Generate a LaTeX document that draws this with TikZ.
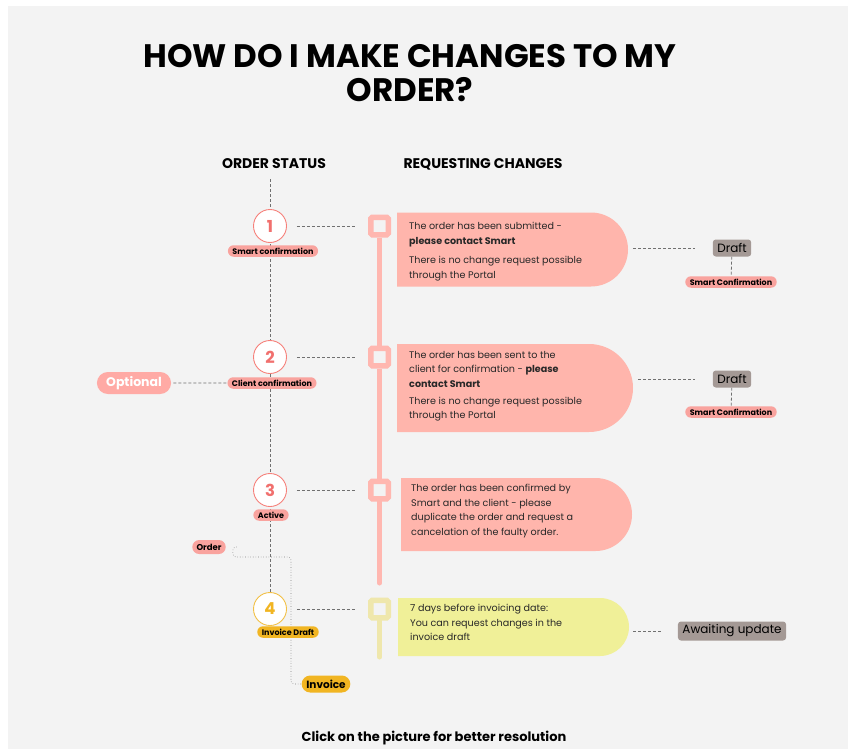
\documentclass[tikz,border=0pt]{standalone}
\usepackage{fontspec}
\setmainfont{Poppins}
\usetikzlibrary{positioning,shapes.misc}
\definecolor{bggray}{RGB}{243,243,243}
\definecolor{boxpink}{RGB}{255,181,172}
\definecolor{barpink}{RGB}{255,183,176}
\definecolor{ringpink}{RGB}{246,128,122}
\definecolor{numpink}{RGB}{241,112,110}
\definecolor{pillpink}{RGB}{249,163,158}
\definecolor{optpink}{RGB}{255,170,165}
\definecolor{boxyellow}{RGB}{240,240,152}
\definecolor{baryellow}{RGB}{239,231,172}
\definecolor{ringyellow}{RGB}{242,192,70}
\definecolor{gold}{RGB}{241,181,34}
\definecolor{taggray}{RGB}{164,153,149}
\definecolor{linegray}{RGB}{112,112,112}
\definecolor{textdark}{RGB}{40,40,40}
\pgfdeclarelayer{canvas}
\pgfdeclarelayer{lines}
\pgfsetlayers{canvas,lines,main}

\begin{document}
\begin{tikzpicture}[x=1pt,y=-1pt,
  font=\fontsize{9.6}{14.6}\selectfont,
  dashline/.style={draw=linegray, dash pattern=on 3pt off 2pt, line width=0.8pt},
  link/.style={draw=gray, dotted, line width=0.6pt, rounded corners=3pt},
  stepcircle/.style={circle, draw=ringpink, line width=0.9pt, fill=white,
                     minimum size=33pt, inner sep=0pt, text=numpink,
                     font=\fontsize{16.5}{16.5}\selectfont\bfseries},
  statuspill/.style={rounded rectangle, fill=pillpink, inner xsep=3.5pt, inner ysep=1pt,
                     minimum height=11.5pt, font=\fontsize{8}{8}\selectfont\bfseries},
  marker/.style={rectangle, rounded corners=1.5pt, draw=barpink, line width=5.5pt,
                 fill=bggray, minimum size=17.5pt, inner sep=0pt},
  bar/.style={draw=barpink, line width=5pt},
  dbox/.style={rounded rectangle, rounded rectangle west arc=none, fill=boxpink, inner sep=0pt},
  boxtext/.style={anchor=north west, align=left, inner sep=0pt, text=textdark},
  greytag/.style={rectangle, rounded corners=3pt, fill=taggray, inner xsep=4.5pt,
                  inner ysep=2pt, minimum height=17pt, font=\fontsize{12}{12}\selectfont},
  head/.style={font=\fontsize{14}{14}\selectfont\bfseries}]
  \def\colS{270}\def\colM{379.5}
  \def\rA{226}\def\rB{357}\def\rC{490}\def\rD{609}
  \useasboundingbox (0,0) rectangle (848,749);
  \begin{pgfonlayer}{canvas}
    \fill[white] (0,0) rectangle (848,749);
    \fill[bggray] (8,6) rectangle (848,749);
  \end{pgfonlayer}

  \node[align=center, inner sep=0pt, anchor=north, font=\fontsize{32.5}{34}\selectfont\bfseries]
        (title) at (410,44) {HOW DO I MAKE CHANGES TO MY\\ORDER?};
  \node[head] (hstatus) at (274,164) {ORDER STATUS};
  \node[head] (hchange) at (483,164) {REQUESTING CHANGES};

  \node[stepcircle] (c1) at (\colS,\rA) {1};
  \node[stepcircle] (c2) at (\colS,\rB) {2};
  \node[stepcircle] (c3) at (\colS,\rC) {3};
  \node[stepcircle, draw=ringyellow, text=gold] (c4) at (\colS,\rD) {4};
  \node[statuspill] (sp1) at (273,251) {Smart confirmation};
  \node[statuspill] (sp2) at (272,383) {Client confirmation};
  \node[statuspill] (sp3) at (271,515) {Active};
  \node[statuspill, fill=gold] (sp4) at (288,632) {Invoice Draft};
  \node[rounded rectangle, fill=optpink, text=white, inner xsep=7pt, minimum height=22pt,
        font=\fontsize{12.5}{13}\selectfont\bfseries] (optional) at (134,383) {Optional};
  \node[statuspill, minimum height=14pt, font=\fontsize{8.5}{8.5}\selectfont\bfseries]
        (order) at (209,547) {Order};
  \node[statuspill, fill=gold, minimum height=17pt, font=\fontsize{10.5}{10.5}\selectfont\bfseries]
        (invoice) at (326,684) {Invoice};
  \coordinate (stTop) at (\colS,179);
  \coordinate (ordTurn) at (291,557);

  \node[marker] (m1) at (\colM,\rA) {};
  \node[marker] (m2) at (\colM,\rB) {};
  \node[marker] (m3) at (\colM,\rC) {};
  \node[marker, draw=baryellow] (m4) at (\colM,\rD) {};
  \coordinate (bar3end) at (\colM,583);
  \coordinate (bar4end) at (\colM,657);

  \node[dbox, minimum width=231pt, minimum height=74pt] (box1) at (512.5,249.5) {};
  \node[dbox, minimum width=236pt, minimum height=88pt] (box2) at (515,388) {};
  \node[dbox, minimum width=231pt, minimum height=73pt] (box3) at (516.5,514.5) {};
  \node[dbox, fill=boxyellow, minimum width=231pt, minimum height=58pt] (box4) at (513.5,627) {};
  \node[boxtext] (t1) at (409,222) {The order has been submitted -\\
        \textbf{please contact Smart}\\[5pt]There is no change request possible\\through the Portal};
  \node[boxtext] (t2) at (409,351) {The order has been sent to the\\
        client for confirmation - \textbf{please}\\\textbf{contact Smart}\\[2pt]
        There is no change request possible\\through the Portal};
  \node[boxtext] (t3) at (411,484) {The order has been confirmed by\\
        Smart and the client - please\\duplicate the order and request a\\
        cancelation of the faulty order.};
  \node[boxtext] (t4) at (410,604) {7 days before invoicing date:\\
        You can request changes in the\\invoice draft};

  \node[greytag] (draft1) at (732,248) {Draft};
  \node[statuspill] (sc1) at (731,282) {Smart Confirmation};
  \node[greytag] (draft2) at (732,379) {Draft};
  \node[statuspill] (sc2) at (731,412) {Smart Confirmation};
  \node[greytag, minimum height=19pt] (await) at (732,631) {Awaiting update};

  \node[font=\fontsize{13}{13}\selectfont\bfseries] (note) at (434,738)
        {Click on the picture for better resolution};

  \begin{pgfonlayer}{lines}
    \draw[dashline] (stTop) -- (c4);
    \draw[dashline, shorten <=10pt, shorten >=13pt] (c1) -- (m1);
    \draw[dashline, shorten <=10pt, shorten >=13pt] (c2) -- (m2);
    \draw[dashline, shorten <=10pt, shorten >=13pt] (c3) -- (m3);
    \draw[dashline, shorten <=10pt, shorten >=13pt] (c4) -- (m4);
    \draw[dashline, shorten <=2pt] (optional) -- (sp2);
    \draw[link] ([xshift=11pt]order.east) -- ([xshift=7pt]order.east) |- (ordTurn) |- (invoice.west);
    \draw[bar] (m1) -- (m2);
    \draw[bar] (m2) -- (m3);
    \draw[bar, line cap=round] (m3) -- (bar3end);
    \draw[bar, draw=baryellow, line cap=round] (m4) -- (bar4end);
    \draw[dashline, shorten <=5pt, shorten >=18pt] (draft1.west -| box1.east) -- (draft1.west);
    \draw[dashline, shorten <=5pt, shorten >=18pt] (draft2.west -| box2.east) -- (draft2.west);
    \draw[dashline, shorten <=4pt, shorten >=17pt] (await.west -| box4.east) -- (await.west);
    \draw[dashline] (draft1) -- (sc1);
    \draw[dashline] (draft2) -- (sc2);
  \end{pgfonlayer}
\end{tikzpicture}
\end{document}
